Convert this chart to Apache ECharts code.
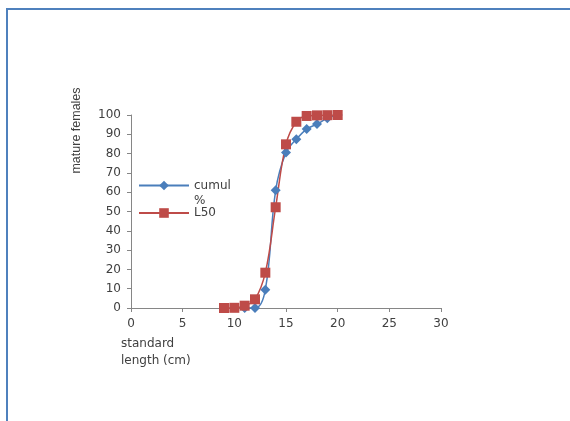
<!DOCTYPE html>
<html>
<head>
<meta charset="utf-8">
<script src="https://cdn.jsdelivr.net/npm/echarts@6/dist/echarts.min.js"></script>
<style>
html,body{margin:0;padding:0;background:#fff;}
#frame{position:absolute;left:6px;top:8px;width:570px;height:420px;border-top:2px solid #4f81bd;border-left:2px solid #4f81bd;}
#chart{position:absolute;left:0;top:0;width:570px;height:421px;}
</style>
</head>
<body>
<div id="frame"></div>
<div id="chart"></div>
<script>
// Data
var cumulX = [11, 12, 13, 14, 15, 16, 17, 18, 19, 20];
var cumulY = [0, 0, 9.5, 61, 80.6, 87.5, 92.7, 95.3, 98.3, 100];
var l50X = [9, 10, 11, 12, 13, 14, 15, 16, 17, 18, 19, 20];
var l50Y = [0, 0.1, 1.2, 4.5, 18.3, 52.2, 84.8, 96.5, 99.5, 99.8, 99.9, 100];
var seriesNames = ['cumul %', 'L50'];
var xTitle = 'standard\nlength (cm)';
var yTitle = 'mature females';

function pairs(xs, ys) { return xs.map(function (x, i) { return [x, ys[i]]; }); }

var chart = echarts.init(document.getElementById('chart'), null, {renderer: 'canvas'});
var axisCol = '#868686';
var txtCol = '#404040';
var font = 'DejaVu Sans';
chart.setOption({
  backgroundColor: 'transparent',
  animation: false,
  grid: {left: 131, right: 129, top: 115, bottom: 113, containLabel: false},
  legend: [
    {
      data: [seriesNames[0]], left: 133, top: 158, orient: 'vertical',
      itemWidth: 50, itemHeight: 12,
      formatter: function (n) { return '\u00a0\ncumul\n%'; },
      textStyle: {color: txtCol, fontFamily: font, fontSize: 12, lineHeight: 15}
    },
    {
      data: [seriesNames[1]], left: 133, top: 202, orient: 'vertical',
      itemWidth: 50, itemHeight: 12,
      textStyle: {color: txtCol, fontFamily: font, fontSize: 12}
    }
  ],
  xAxis: {
    type: 'value', min: 0, max: 30, interval: 5,
    name: xTitle, nameLocation: 'start', nameGap: 10, nameMoveOverlap: false,
    nameTextStyle: {color: txtCol, fontFamily: font, fontSize: 12, align: 'left', verticalAlign: 'top', lineHeight: 17, padding: [27, 0, 0, 0]},
    axisLine: {show: true, lineStyle: {color: axisCol, width: 1}},
    axisTick: {show: true, length: 4, lineStyle: {color: axisCol}},
    axisLabel: {color: txtCol, fontFamily: font, fontSize: 12, margin: 10},
    splitLine: {show: false}
  },
  yAxis: {
    type: 'value', min: 0, max: 100, interval: 10,
    name: yTitle, nameLocation: 'middle', nameGap: 48, nameMoveOverlap: false,
    nameTextStyle: {color: txtCol, fontFamily: 'Liberation Sans', fontSize: 12.5, padding: [0, 0, 0, 162]},
    axisLine: {show: true, lineStyle: {color: axisCol, width: 1}},
    axisTick: {show: true, length: 4, lineStyle: {color: axisCol}},
    axisLabel: {color: txtCol, fontFamily: font, fontSize: 12, margin: 10},
    splitLine: {show: false}
  },
  series: [
    {
      name: seriesNames[0], type: 'line', data: pairs(cumulX, cumulY),
      smooth: 0.4, symbol: 'diamond', symbolSize: 10,
      lineStyle: {color: '#4a7ebb', width: 1.5},
      itemStyle: {color: '#4a7ebb'}
    },
    {
      name: seriesNames[1], type: 'line', data: pairs(l50X, l50Y),
      smooth: 0.4, symbol: 'rect', symbolSize: 10,
      lineStyle: {color: '#be4b48', width: 1.5},
      itemStyle: {color: '#be4b48'}
    }
  ]
});
</script>
</body>
</html>
